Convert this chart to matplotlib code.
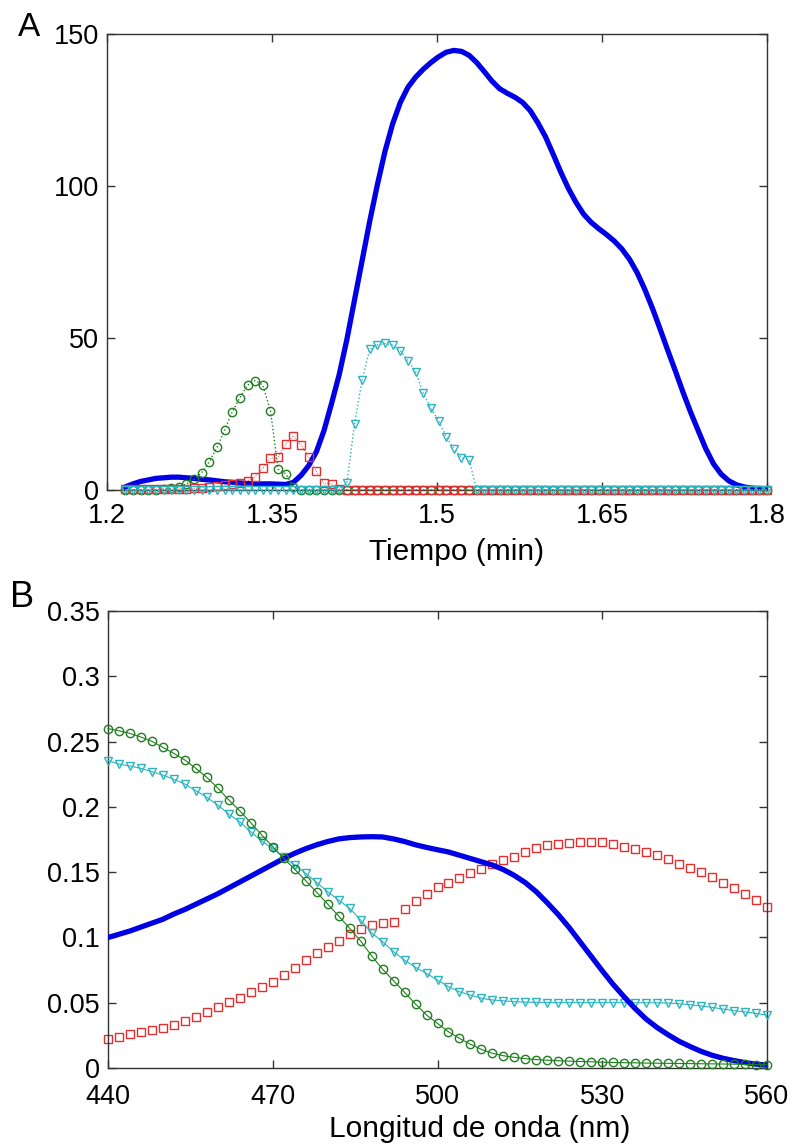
import numpy as np
import matplotlib
matplotlib.use('Agg')
import matplotlib.pyplot as plt

plt.rcParams['font.family'] = ['Liberation Sans', 'DejaVu Sans']

# Panel A: elution profiles (85 scans, 1.2167 - 1.8 min)
tiempo = np.linspace(1.2167, 1.8, 85)

perfil_azul = [
    1.0, 2.0, 2.8, 3.3, 3.8, 4.0, 4.2, 4.2, 4.0, 3.8,
    3.5, 3.3, 3.0, 2.7, 2.5, 2.3, 2.1, 2.0, 2.0, 2.0,
    1.9, 1.8, 2.5, 4.8, 8.0, 12.5, 19.5, 28.5, 38.0, 49.5,
    62.5, 75.5, 88.5, 100.5, 111.5, 120.5, 127.5, 132.5, 135.8, 138.4,
    140.6, 142.5, 144.0, 144.6, 144.3, 143.0, 140.6, 137.6, 134.5, 132.0,
    130.5, 129.2, 127.5, 124.8, 120.8, 116.2, 110.5, 104.6, 99.2, 94.6,
    90.7, 88.0, 85.9, 84.0, 81.9, 79.3, 75.9, 71.5, 66.0, 59.8,
    53.0, 46.0, 39.2, 32.2, 25.6, 19.5, 13.5, 8.6, 5.2, 3.0,
    1.7, 1.0, 0.6, 0.4, 0.2,
]

perfil_verde = [
    0, 0, 0, 0, 0, 0.2, 0.5, 1.0, 2.0, 3.5,
    5.7, 9.3, 14.0, 19.7, 25.7, 30.4, 34.5, 36.0, 34.5, 26.0,
    6.8, 5.3, 1.0, 0, 0, 0, 0, 0, 0, 0,
    0, 0, 0, 0, 0, 0, 0, 0, 0, 0,
    0, 0, 0, 0, 0, 0, 0, 0, 0, 0,
    0, 0, 0, 0, 0, 0, 0, 0, 0, 0,
    0, 0, 0, 0, 0, 0, 0, 0, 0, 0,
    0, 0, 0, 0, 0, 0, 0, 0, 0, 0,
    0, 0, 0, 0, 0,
]

perfil_rojo = [
    0.2, 0.2, 0.2, 0.3, 0.3, 0.3, 0.3, 0.4, 0.4, 0.5,
    0.8, 1.0, 1.2, 1.5, 1.8, 2.2, 3.0, 4.4, 7.1, 10.4,
    10.8, 15.1, 17.8, 14.8, 10.8, 6.2, 2.2, 2.0, 0.3, 0,
    0, 0, 0, 0, 0, 0, 0, 0, 0, 0,
    0, 0, 0, 0, 0, 0, 0, 0, 0, 0,
    0, 0, 0, 0, 0, 0, 0, 0, 0, 0,
    0, 0, 0, 0, 0, 0, 0, 0, 0, 0,
    0, 0, 0, 0, 0, 0, 0, 0, 0, 0,
    0, 0, 0, 0, 0,
]

perfil_cian = [
    0, 0, 0, 0, 0, 0, 0, 0, 0, 0,
    0, 0, 0, 0, 0, 0, 0, 0, 0, 0,
    0, 0, 0, 0, 0, 0, 0, 0, 0, 2.4,
    21.7, 36.2, 46.3, 47.7, 48.2, 47.7, 45.8, 42.5, 38.9, 31.8,
    26.9, 22.8, 17.5, 13.5, 10.6, 9.9, 0, 0, 0, 0,
    0, 0, 0, 0, 0, 0, 0, 0, 0, 0,
    0, 0, 0, 0, 0, 0, 0, 0, 0, 0,
    0, 0, 0, 0, 0, 0, 0, 0, 0, 0,
    0, 0, 0, 0, 0,
]

# Panel B: spectra, 440 - 560 nm every 2 nm
longitud = np.arange(440, 561, 2)

espectro_azul = [
    0.100, 0.1025, 0.105, 0.108, 0.111, 0.114, 0.118, 0.1215, 0.1255, 0.1295,
    0.1335, 0.138, 0.1425, 0.147, 0.1515, 0.156, 0.1605, 0.1645, 0.168, 0.171,
    0.1735, 0.1755, 0.1765, 0.177, 0.1772, 0.177, 0.1755, 0.1735, 0.171, 0.169,
    0.1672, 0.1655, 0.163, 0.1605, 0.158, 0.1555, 0.152, 0.1475, 0.142, 0.135,
    0.1265, 0.1175, 0.1075, 0.0965, 0.0855, 0.0745, 0.064, 0.0545, 0.0455, 0.0375,
    0.031, 0.0255, 0.0205, 0.0165, 0.0128, 0.0098, 0.0075, 0.0057, 0.0042, 0.003,
    0.0023,
]

espectro_verde = [
    0.260, 0.2583, 0.2563, 0.2535, 0.2502, 0.2456, 0.241, 0.2359, 0.2295, 0.2226,
    0.2144, 0.2053, 0.197, 0.1879, 0.1785, 0.1695, 0.1606, 0.1522, 0.1435, 0.1346,
    0.1256, 0.1164, 0.107, 0.0973, 0.086, 0.0756, 0.0669, 0.058, 0.049, 0.0406,
    0.0342, 0.0278, 0.0227, 0.0182, 0.0143, 0.0113, 0.0094, 0.0082, 0.0072, 0.0065,
    0.006, 0.0056, 0.0053, 0.005, 0.0048, 0.0045, 0.0043, 0.0041, 0.004, 0.0038,
    0.0037, 0.0036, 0.0035, 0.0034, 0.0033, 0.0032, 0.0031, 0.003, 0.0028, 0.0026,
    0.0025,
]

espectro_rojo = [
    0.022, 0.024, 0.026, 0.0278, 0.0291, 0.0309, 0.0329, 0.0362, 0.0393, 0.0431,
    0.0465, 0.0503, 0.0534, 0.058, 0.0618, 0.0661, 0.0712, 0.0768, 0.0827, 0.0878,
    0.0929, 0.0975, 0.1026, 0.1062, 0.1095, 0.1108, 0.1118, 0.122, 0.1281, 0.1333,
    0.1384, 0.1415, 0.1453, 0.1491, 0.1522, 0.1562, 0.1593, 0.162, 0.1655, 0.1685,
    0.1705, 0.1718, 0.1727, 0.1733, 0.1733, 0.1729, 0.1716, 0.1695, 0.1677, 0.1655,
    0.163, 0.1598, 0.1565, 0.1532, 0.150, 0.146, 0.1418, 0.1376, 0.1332, 0.1285,
    0.123,
]

espectro_cian = [
    0.2354, 0.2328, 0.2313, 0.2295, 0.227, 0.2244, 0.2211, 0.2175, 0.2124, 0.2073,
    0.2014, 0.1945, 0.1886, 0.181, 0.1738, 0.1683, 0.1614, 0.1555, 0.1491, 0.1422,
    0.135, 0.1287, 0.1223, 0.1134, 0.1036, 0.0967, 0.0891, 0.0827, 0.0771, 0.0725,
    0.0674, 0.0623, 0.0584, 0.0559, 0.0534, 0.0521, 0.0515, 0.0508, 0.0505, 0.0503,
    0.0502, 0.0501, 0.0501, 0.0501, 0.0501, 0.0501, 0.0501, 0.0501, 0.050, 0.050,
    0.050, 0.0498, 0.0493, 0.0485, 0.0475, 0.0465, 0.0452, 0.044, 0.043, 0.0418,
    0.0406,
]

azul = '#0000e6'
verde = '#1f7f1f'
rojo = '#e0302f'
cian = '#2cb5bf'

fig = plt.figure(figsize=(7.92, 11.45), dpi=100)
axA = fig.add_axes([0.1351, 0.5721, 0.8333, 0.3982])
axB = fig.add_axes([0.1364, 0.0672, 0.8320, 0.3991])

# Panel A
axA.plot(tiempo, perfil_azul, color=azul, lw=3.8, zorder=2,
         solid_joinstyle='round')
axA.plot(tiempo, perfil_verde, color=verde, ls=':', lw=1.0, marker='o',
         ms=6, mfc='none', mew=1.0, clip_on=False, zorder=3)
axA.plot(tiempo, perfil_rojo, color=rojo, ls=':', lw=0.6, marker='s',
         ms=5.5, mfc='none', mew=1.0, clip_on=False, zorder=4)
axA.plot(tiempo, perfil_cian, color=cian, ls=':', lw=1.0, marker='v',
         ms=6, mfc='none', mew=1.0, clip_on=False, zorder=5)
axA.set_xlim(1.2, 1.8)
axA.set_ylim(0, 150)
axA.set_xticks([1.2, 1.35, 1.5, 1.65, 1.8])
axA.set_xticklabels(['1.2', '1.35', '1.5', '1.65', '1.8'])
axA.set_yticks([0, 50, 100, 150])
axA.set_xlabel('Tiempo (min)', fontsize=21.5)

# Panel B
axB.plot(longitud, espectro_rojo, color=rojo, ls='none', marker='s',
         ms=5.5, mfc='none', mew=1.0, clip_on=False, zorder=2)
axB.plot(longitud, espectro_cian, color=cian, ls='-', lw=0.8, marker='v',
         ms=6, mfc='none', mew=1.0, clip_on=False, zorder=3)
axB.plot(longitud, espectro_azul, color=azul, lw=3.8, zorder=4,
         solid_joinstyle='round')
axB.plot(longitud, espectro_verde, color=verde, ls='-', lw=0.8, marker='o',
         ms=6, mfc='none', mew=1.0, clip_on=False, zorder=5)
axB.set_xlim(440, 560)
axB.set_ylim(0, 0.35)
axB.set_xticks([440, 470, 500, 530, 560])
axB.set_yticks([0, 0.05, 0.1, 0.15, 0.2, 0.25, 0.3, 0.35])
axB.set_yticklabels(['0', '0.05', '0.1', '0.15', '0.2', '0.25', '0.3', '0.35'])
axB.set_xlabel('Longitud de onda (nm)', fontsize=21.5)

for ax in (axA, axB):
    ax.tick_params(direction='in', length=6, width=1, top=True, right=True,
                   labelsize=19.5, colors='#333333', labelcolor='black')
    ax.tick_params(axis='x', pad=9.5)
    ax.tick_params(axis='y', pad=6)
    for s in ax.spines.values():
        s.set_color('#333333')
        s.set_linewidth(1.0)
    ax.xaxis.label.set_va('baseline')

axB.tick_params(axis='x', pad=11.5)

axA.xaxis.set_label_coords(0.529, -0.1535)
axB.xaxis.set_label_coords(0.5645, -0.151)

fig.text(0.0366, 0.9764, 'A', fontsize=24, ha='center', va='center')
fig.text(0.0284, 0.4786, 'B', fontsize=26, ha='center', va='center')

fig.savefig('out.png', dpi=100)
